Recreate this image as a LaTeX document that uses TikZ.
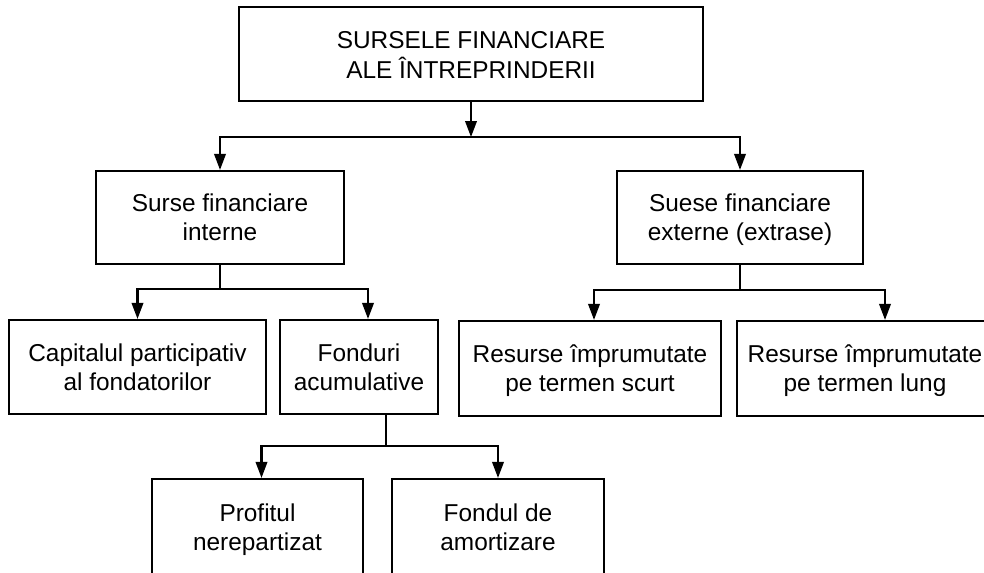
\documentclass[tikz,border=0pt]{standalone}
\usepackage{fontspec}
\setmainfont{Liberation Sans}
\usetikzlibrary{arrows.meta,calc}
% two centred lines; the reference point is the first baseline
\newcommand\twoline[2]{\begin{tabular}[t]{@{}c@{}}#1\\#2\end{tabular}}
\begin{document}
\begin{tikzpicture}[x=0.75pt,y=-0.75pt,
  box/.style 2 args={draw=black, line width=1.6pt, inner sep=0pt,
    minimum width=#1, minimum height=#2,
    font=\fontsize{18.3}{21.6}\selectfont,
    text height=13.1pt, text depth=21.6pt},
  link/.style={draw=black, line width=1.6pt},
  arr/.style={link, -{Triangle[length=12pt,width=8.6pt]}}]
\useasboundingbox (0,0) rectangle (984,572);
\clip (0,0) rectangle (984,572);

% boxes
\node[box={348pt}{70.5pt}] (top) at (471,54) {\twoline{SURSELE FINANCIARE}{ALE ÎNTREPRINDERII}};
\node[box={186pt}{69.75pt}] (intern) at (220,217.5) {\twoline{Surse financiare}{interne}};
\node[box={184.5pt}{69.75pt}] (extern) at (740,217.5) {\twoline{Suese financiare}{externe (extrase)}};
\node[box={192.75pt}{70.5pt}] (capital) at (137.5,367) {\twoline{Capitalul participativ}{al fondatorilor}};
\node[box={118.5pt}{70.5pt}] (fonduri) at (359,367) {\twoline{Fonduri}{acumulative}};
\node[box={196.5pt}{71.25pt}] (scurt) at (590,368.5) {\twoline{Resurse împrumutate}{pe termen scurt}};
\node[box={192pt}{71.25pt}] (lung) at (865,368.5) {\twoline{Resurse împrumutate}{pe termen lung}};
\node[box={158.25pt}{72pt}] (profit) at (257.5,527) {\twoline{Profitul}{nerepartizat}};
\node[box={159pt}{72pt}] (amort) at (498,527) {\twoline{Fondul de}{amortizare}};

% junction points of the tree
\coordinate (j0) at ($(top.south)+(0,35)$);
\coordinate (j1) at ($(intern.south)+(0,24)$);
\coordinate (j2) at ($(extern.south)+(0,25)$);
\coordinate (f3) at ($(fonduri.south)+(27,0)$);
\coordinate (j3) at ($(f3)+(0,31)$);

% connectors
\draw[arr] (top.south) -- (j0);
\draw[arr] (j0) -| (intern.north);
\draw[arr] (j0) -| (extern.north);

\draw[link] (intern.south) -- (j1);
\draw[arr] (j1) -| (capital.north);
\draw[arr] (j1) -| ($(fonduri.north)+(9,0)$);

\draw[link] (extern.south) -- (j2);
\draw[arr] (j2) -| ($(scurt.north)+(4,0)$);
\draw[arr] (j2) -| ($(lung.north)+(20,0)$);

\draw[link] (f3) -- (j3);
\draw[arr] (j3) -| ($(profit.north)+(4,0)$);
\draw[arr] (j3) -| (amort.north);
\end{tikzpicture}
\end{document}
